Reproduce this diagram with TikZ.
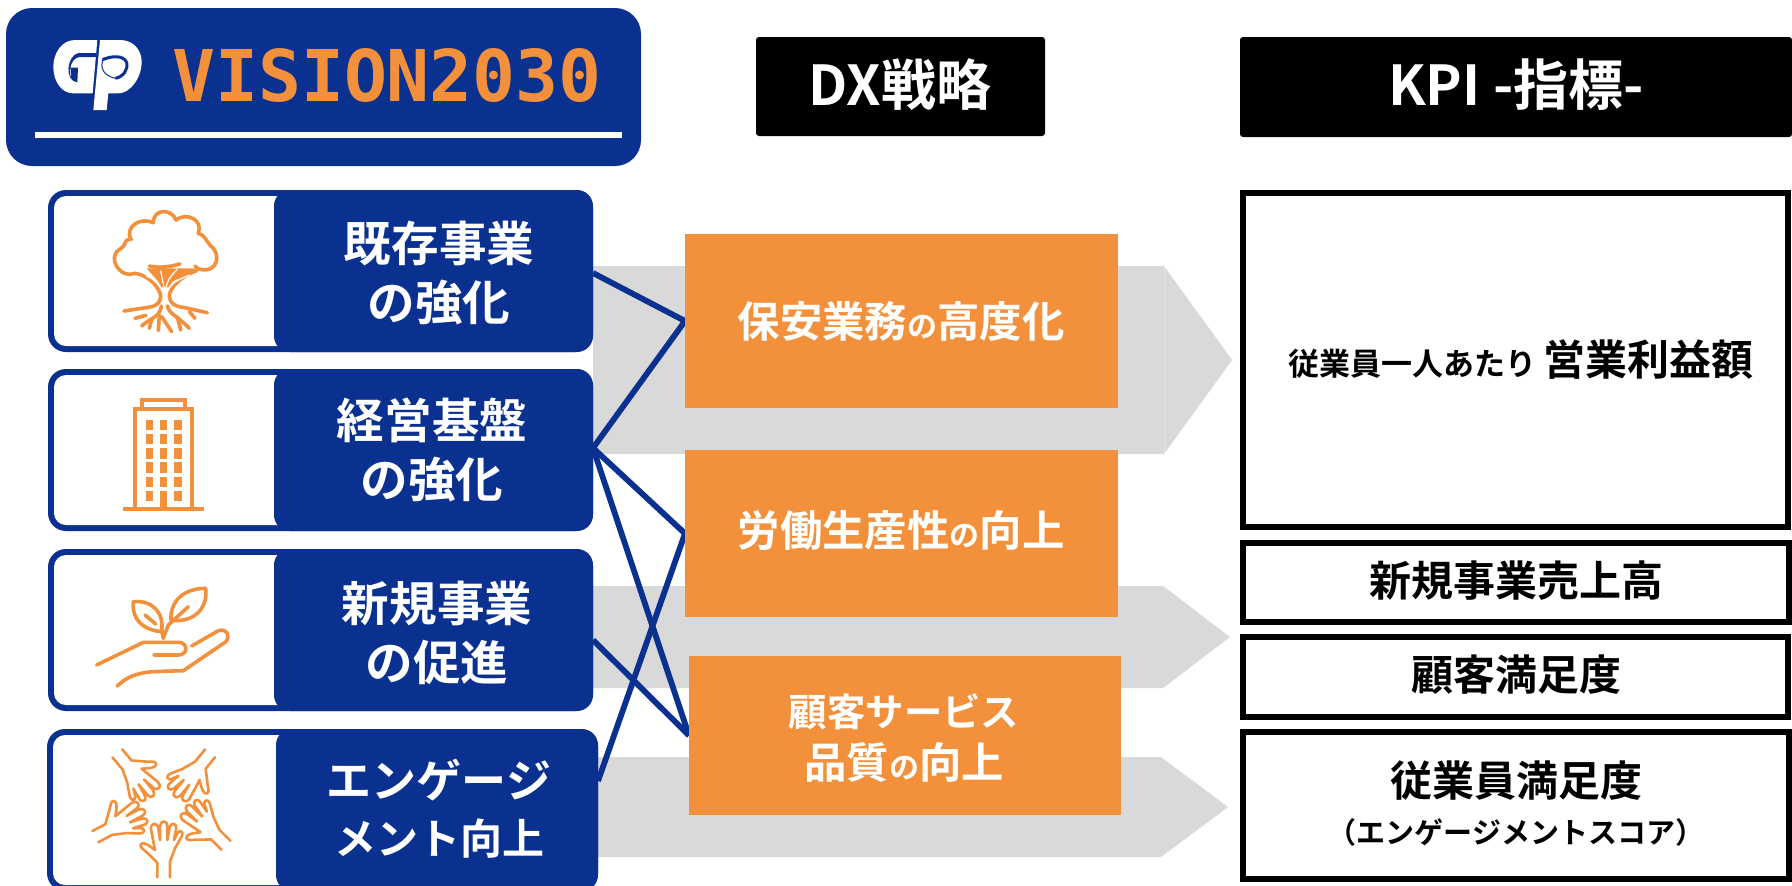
\documentclass[tikz,border=0pt]{standalone}
\usepackage{fontspec}
\setmainfont{Noto Sans CJK JP}[BoldFont={Noto Sans CJK JP Bold}]
\newfontfamily\latinmono{DejaVu Sans Mono}
\usetikzlibrary{fit}
\definecolor{gpblue}{HTML}{0A318F}
\definecolor{gporange}{HTML}{F2903B}
\definecolor{gpgray}{HTML}{D9D9D9}
\definecolor{gpseam}{HTML}{E4E4E4}
\pgfdeclarelayer{graylayer}
\pgfdeclarelayer{linklayer}
\pgfsetlayers{graylayer,linklayer,main}
\newcommand{\fs}[1]{\fontsize{#1}{#1}\selectfont\bfseries}
\newcommand{\smallno}{{\fontsize{15}{15}\selectfont の}}
\newcommand{\handpath}{
  \draw[iconline,thinicon] (352,772) -- (352,728) -- (318,695) .. controls (305,685) and (298,678) .. (303,672) .. controls (310,664) and (325,675) .. (345,690)
   -- (333,628) .. controls (331,608) and (352,605) .. (355,625) -- (360,660)
   -- (360,618) .. controls (362,600) and (382,600) .. (382,618) -- (382,660)
   -- (389,622) .. controls (393,606) and (412,608) .. (408,628) -- (402,660)
   -- (412,640) .. controls (418,628) and (432,634) .. (426,648) -- (405,685) -- (390,725) -- (390,772);
}
\tikzset{
  inset/.style={inner sep=0pt,outer sep=0pt},
  cardouter/.style={inset,fill=gpblue,rounded corners=9pt},
  cardinner/.style={inset,fill=white,rounded corners=6pt},
  cardblock/.style={inset,fill=gpblue,rounded corners=8pt},
  cardtext/.style={text=white,align=center,font=\fs{23.8},inner sep=0pt},
  orangebox/.style={inset,fill=gporange},
  orangetext/.style={font=\fs{21.2},text=white,inner sep=0pt,align=center},
  headbox/.style={inset,fill=black,rounded corners=1.5pt},
  headtext/.style={text=white,font=\fs{27.5},inner sep=0pt},
  kpibox/.style={inset,draw=black,line width=3pt,fill=white},
  link/.style={draw=gpblue,line width=2.9pt},
  grayarrow/.style={fill=gpgray},
  iconline/.style={draw=gporange,line width=1.8pt,line cap=round,line join=round},
  thinicon/.style={line width=1.3pt},
}
\begin{document}
\begin{tikzpicture}[x=0.5pt,y=-0.5pt]
\useasboundingbox (0,0) rectangle (1792,885);

% gray arrows
\begin{pgfonlayer}{graylayer}
\path[fill=white] (0,0) rectangle (1792,885);
\path[grayarrow] (593,266) -- (1164,266) -- (1232,360) -- (1164,454) -- (593,454) -- cycle;
\path[grayarrow] (593,586) -- (1163,586) -- (1230,637) -- (1163,688) -- (593,688) -- cycle;
\path[grayarrow] (597,757) -- (1161,757) -- (1228,807) -- (1161,857) -- (597,857) -- cycle;
\draw[gpseam,line width=0.4pt] (1164,266) -- (1164,454);
\end{pgfonlayer}

% header
\node[inset,fill=gpblue,rounded corners=13pt,fit={(6,8)(641,166)}] (header) {};
\node[inset,fill=white,fit={(35,132)(622,138)}] (headerline) {};
\node[inset,text=gporange,anchor=center,font=\latinmono\bfseries\fontsize{35.7}{35.7}\selectfont] (vision) at (387,76) {VISION2030};

% GP logo
\begin{scope}[shift={(40,25)},scale=1/3]
\fill[white] (172,45) -- (105,45) .. controls (65,45) and (40,85) .. (40,125) .. controls (40,170) and (65,205) .. (100,205) -- (158,205) -- cycle;
\fill[white] (180,45) -- (240,45) .. controls (280,45) and (305,75) .. (305,110) .. controls (305,160) and (270,205) .. (235,205) -- (205,205) -- (200,255) -- (160,255) -- cycle;
\fill[gpblue] (170,84) -- (115,84) .. controls (80,92) and (72,168) .. (112,172) -- (114,128) -- (92,128) -- (94,160) .. controls (84,140) and (92,100) .. (118,96) -- (168,96) -- cycle;
\draw[gpblue,line width=1.5pt] (188,104) .. controls (215,92) and (250,90) .. (260,112) .. controls (265,135) and (250,155) .. (226,160);
\draw[gpblue,line width=0.5pt] (188,104) .. controls (182,125) and (185,150) .. (226,160);
\end{scope}

% column heads
\node[headbox,fit={(756,37)(1045,136)}] (dxhead) {};
\node[headtext] (dxt) at (900,85) {DX戦略};
\node[headbox,fit={(1240,37)(1792,137)}] (kpihead) {};
\node[headtext] (kpit) at (1516,85) {KPI -指標-};

% cards
\node[cardouter,fit={(48,190)(593,352)}] (c1) {};
\node[cardinner,fit={(54,196)(300,346)}] (c1in) {};
\node[cardblock,fit={(274,190)(593,352)}] (c1bl) {};
\node[cardtext] (c1t) at (439,273) {既存事業\\[6pt]の強化};

\node[cardouter,fit={(48,369)(593,531)}] (c2) {};
\node[cardinner,fit={(54,375)(300,525)}] (c2in) {};
\node[cardblock,fit={(274,369)(593,531)}] (c2bl) {};
\node[cardtext] (c2t) at (432,450) {経営基盤\\[6pt]の強化};

\node[cardouter,fit={(48,549)(593,711)}] (c3) {};
\node[cardinner,fit={(54,555)(300,705)}] (c3in) {};
\node[cardblock,fit={(274,549)(593,711)}] (c3bl) {};
\node[cardtext] (c3t) at (437,633) {新規事業\\[6pt]の促進};

\node[cardouter,fit={(47,729)(598,891)}] (c4) {};
\node[cardinner,fit={(53,735)(300,885)}] (c4in) {};
\node[cardblock,fit={(276,729)(598,891)}] (c4bl) {};
\node[cardtext,font=\fs{22.5}] (c4t) at (439,809) {エンゲージ\\[6pt]{\fontsize{21}{21}\selectfont メント向上}};

% orange boxes
\node[orangebox,fit={(685,234)(1118,408)}] (o1) {};
\node[orangetext] (o1t) at (901,321) {保安業務\smallno 高度化};
\node[orangebox,fit={(685,450)(1118,617)}] (o2) {};
\node[orangetext] (o2t) at (901,530) {労働生産性\smallno 向上};
\node[orangebox,fit={(689,656)(1121,815)}] (o3) {};
\node[orangetext] (o3t) at (904,738) {{\fontsize{19.2}{19.2}\selectfont 顧客サービス}\\[5pt]品質\smallno 向上};

% connectors
\begin{pgfonlayer}{linklayer}
\draw[link] ([yshift=-1pt]c1.east) -- (o1.west);
\draw[link] ([yshift=1pt]c2.east) -- (o1.west);
\draw[link] ([yshift=1pt]c2.east) -- (o2.west);
\draw[link] ([yshift=1pt]c2.east) -- (o3.west);
\draw[link] ([yshift=-5pt]c3.east) -- (o3.west);
\draw[link] ([yshift=14.5pt]c4.east) -- (o2.west);
\end{pgfonlayer}

% KPI boxes
\node[kpibox,fit={(1243,193)(1788,527)}] (k1) {};
\node[inner sep=0pt,font=\bfseries] (k1t) at (1521,360) {\fontsize{15.5}{15.5}\selectfont 従業員一人あたり\ \fontsize{21}{21}\selectfont 営業利益額};
\node[kpibox,fit={(1243,543)(1789,622)}] (k2) {};
\node[inner sep=0pt,font=\fs{21}] (k2t) at (1516,581) {新規事業売上高};
\node[kpibox,fit={(1243,637)(1788,717)}] (k3) {};
\node[inner sep=0pt,font=\fs{21}] (k3t) at (1516,675) {顧客満足度};
\node[kpibox,fit={(1243,732)(1789,879)}] (k4) {};
\node[inner sep=0pt,font=\fs{21}] (k4t) at (1516,781) {従業員満足度};
\node[inner sep=0pt,font=\fs{14.5}] (k4s) at (1516,832) {（エンゲージメントスコア）};

% tree icon
\begin{scope}[shift={(90,200)},scale=1/3]
\fill[gporange] (170,205) -- (320,205) -- (248,245) -- (236,262) -- (214,262) -- (205,245) -- cycle;
\draw[iconline] (135,220) .. controls (95,235) and (65,190) .. (75,165) .. controls (80,148) and (95,148) .. (103,135) .. controls (105,125) and (112,115) .. (125,118);
\draw[iconline] (122,118) .. controls (105,80) and (150,50) .. (190,68);
\draw[iconline] (190,68) .. controls (190,25) and (245,25) .. (258,60);
\draw[iconline] (258,60) .. controls (290,35) and (340,60) .. (325,100);
\draw[iconline] (325,100) .. controls (345,105) and (350,125) .. (360,135) .. controls (395,160) and (385,220) .. (330,208);
\draw[iconline] (178,198) .. controls (210,205) and (240,200) .. (270,192);
\draw[iconline] (315,198) .. controls (320,205) and (325,206) .. (330,208);
\draw[iconline] (135,220) .. controls (175,225) and (212,265) .. (212,290) .. controls (212,310) and (195,320) .. (175,322) -- (102,333);
\draw[iconline] (320,212) .. controls (280,225) and (238,260) .. (238,290) .. controls (240,310) and (255,320) .. (280,322) -- (352,338);
\draw[iconline] (214,318) .. controls (212,350) and (180,355) .. (155,378);
\draw[iconline] (168,346) -- (135,355);
\draw[iconline] (208,345) -- (205,392);
\draw[iconline] (185,358) -- (178,385);
\draw[iconline] (232,318) .. controls (240,345) and (265,350) .. (298,385);
\draw[iconline] (215,350) .. controls (225,365) and (235,380) .. (245,395);
\draw[iconline] (262,350) -- (272,390);
\draw[iconline] (298,335) -- (315,355);
\draw[white,line width=0.6pt] (168,228) .. controls (190,235) and (205,250) .. (212,265);
\draw[white,line width=0.6pt] (212,212) -- (222,262);
\draw[white,line width=0.6pt] (262,208) .. controls (245,225) and (232,240) .. (228,262);
\draw[white,line width=0.6pt] (300,225) .. controls (270,235) and (250,248) .. (238,262);
\end{scope}

% building icon
\begin{scope}[shift={(40,320)},scale=1/3]
\fill[gporange] (248,560) rectangle (493,573);
\draw[gporange,line width=2pt] (284,560) -- (284,267) -- (457,267) -- (457,560);
\draw[gporange,line width=2pt] (306,261) -- (306,241) -- (435,241) -- (435,261);
\foreach \yy in {299,342,385,427,470}
  \foreach \xx in {317,360,403}
    \fill[gporange] (\xx,\yy) rectangle ++(22,31);
\fill[gporange] (317,513) rectangle ++(22,31);
\fill[gporange] (360,513) rectangle (382,560);
\fill[gporange] (403,513) rectangle ++(22,31);
\end{scope}

% plant and hand icon
\begin{scope}[shift={(85,580)},scale=1/3]
\draw[iconline] (145,65) .. controls (200,60) and (238,95) .. (230,155) .. controls (175,150) and (140,120) .. cycle;
\draw[iconline] (180,105) -- (212,132);
\draw[iconline] (362,25) .. controls (300,25) and (255,60) .. (258,120) .. controls (320,130) and (370,90) .. cycle;
\draw[iconline] (310,80) -- (250,135) -- (235,175);
\draw[iconline] (230,150) -- (235,175);
\draw[iconline] (35,255) -- (175,187) -- (280,187) .. controls (310,187) and (310,225) .. (280,225) -- (207,225);
\draw[iconline] (320,198) -- (400,152) .. controls (425,143) and (440,172) .. (420,187) -- (295,272) -- (200,275) .. controls (155,280) and (125,290) .. (97,318);
\end{scope}

% hands icon: wrist position (in zoom units) and turn of each hand
\foreach \wx/\wy/\ang in {371/772/0,558/676/45,510/400/141,232/400/220,166/650/298}{
  \begin{scope}[shift={(40,620)},scale=1/3,shift={(\wx,\wy)},rotate=\ang,shift={(-371,-772)}]
  \handpath
  \end{scope}
}
\end{tikzpicture}
\end{document}
